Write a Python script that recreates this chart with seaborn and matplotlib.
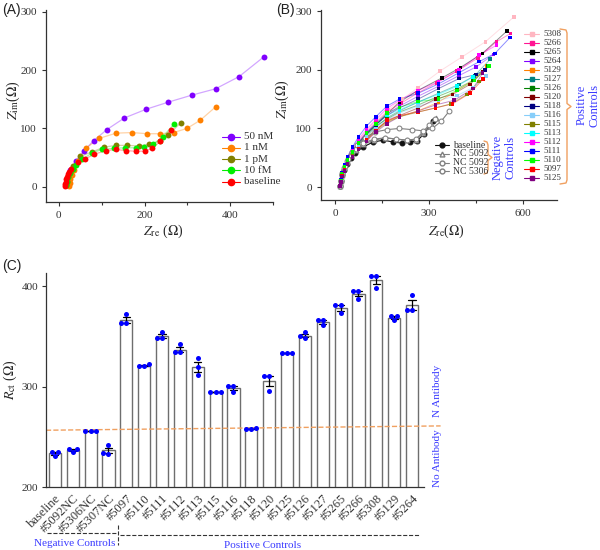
import numpy as np
import pandas as pd
import matplotlib
matplotlib.use('Agg')
import matplotlib.pyplot as plt
from matplotlib.lines import Line2D
import seaborn as sns

# --- Panel A: Nyquist plots for target concentrations ---
A_LABELS = ['50 nM', '1 nM', '1 pM', '10 fM', 'baseline']
A_COLORS = ['#8000ff', '#ff8000', '#808000', '#00ee00', '#ff0000']
A_X = [
    [17, 20, 25, 39, 58, 81, 112, 153, 204, 255, 310, 366, 421, 479],
    [24, 25, 27, 30, 36, 45, 63, 94, 134, 171, 206, 237, 268, 299, 330, 366],
    [17, 19, 22, 27, 34, 50, 78, 106, 133, 160, 186, 211, 235, 256, 285],
    [16, 18, 21, 26, 32, 40, 55, 77, 100, 128, 155, 180, 198, 220, 243, 268],
    [14, 15, 16, 17, 19, 21, 24, 29, 44, 62, 83, 110, 134, 157, 179, 200, 218, 237, 261],
]
A_Y = [
    [4, 14, 28, 44, 61, 79, 98, 118, 133, 145, 157, 168, 189, 223],
    [2, 7, 13, 20, 28, 45, 66, 83, 92, 93, 91, 91, 93, 100, 114, 137],
    [3, 10, 18, 26, 36, 52, 60, 68, 71, 71, 70, 73, 78, 89, 110],
    [3, 9, 16, 24, 30, 37, 47, 58, 64, 66, 67, 67, 68, 73, 86, 107],
    [2, 5, 9, 13, 17, 22, 26, 30, 42, 48, 56, 62, 64, 62, 61, 61, 66, 78, 98],
]

# --- Panel B: negative controls ---
NEG_LABELS = ['baseline', 'NC 5092', 'NC 5092 ', 'NC 5306']
NEG_MARKERS = ['o', '^', 'o', 'o']
NEG_X = [
    [15, 18, 22, 28, 38, 50, 65, 88, 122, 154, 184, 212, 239, 260, 284, 312],
    [15, 18, 22, 28, 38, 50, 66, 90, 125, 160, 195, 228, 258, 282, 305, 322],
    [15, 18, 22, 28, 38, 50, 66, 90, 125, 160, 195, 228, 258, 280, 300, 318],
    [15, 18, 23, 30, 40, 53, 70, 95, 128, 165, 205, 245, 280, 310, 338, 365],
]
NEG_Y = [
    [2, 10, 20, 30, 40, 50, 58, 68, 77, 80, 77, 75, 77, 78, 91, 112],
    [2, 11, 21, 32, 43, 54, 63, 73, 80, 84, 82, 80, 80, 92, 108, 118],
    [2, 11, 22, 33, 44, 55, 65, 75, 82, 84, 82, 80, 82, 94, 106, 116],
    [2, 12, 24, 36, 48, 60, 72, 84, 94, 98, 100, 98, 96, 100, 112, 130],
]

# --- Panel B: positive controls ---
POS_LABELS = ['5308', '5266', '5265', '5264', '5129', '5127', '5126', '5120', '5118',
              '5116', '5115', '5113', '5112', '5111', '5110', '5097', '5125']
POS_COLORS = ['#ffb6c1', '#ff1493', '#000000', '#8000ff', '#ff8000', '#008080', '#008000',
              '#800000', '#000080', '#87cefa', '#808000', '#00ffff', '#ff00ff', '#0000ff',
              '#00ff00', '#ff0000', '#800080']
POS_X = [
    [15, 18, 23, 30, 40, 55, 75, 100, 130, 170, 215, 265, 335, 405, 480, 570],
    [15, 18, 23, 30, 40, 55, 75, 100, 130, 165, 210, 262, 325, 390, 455, 515, 560],
    [15, 18, 23, 30, 40, 55, 75, 100, 130, 165, 205, 265, 340, 400, 470, 548],
    [15, 18, 23, 30, 40, 55, 75, 100, 130, 165, 205, 265, 330, 395, 450, 505],
    [15, 18, 23, 30, 40, 55, 75, 100, 130, 165, 205, 265, 330, 390, 440, 485],
    [15, 18, 23, 30, 40, 55, 75, 100, 130, 165, 205, 265, 330, 395, 445, 495],
    [15, 18, 23, 30, 40, 55, 75, 100, 130, 165, 205, 265, 330, 390, 440, 488],
    [15, 18, 23, 30, 40, 55, 75, 100, 130, 165, 205, 265, 320, 375, 430, 470],
    [15, 18, 23, 30, 40, 55, 75, 100, 130, 165, 205, 265, 330, 395, 450, 478],
    [15, 18, 23, 30, 40, 55, 75, 100, 130, 165, 205, 265, 330, 390, 440, 482],
    [15, 18, 23, 30, 40, 55, 75, 100, 130, 165, 205, 265, 320, 370, 420, 460],
    [15, 18, 23, 30, 40, 55, 75, 100, 130, 165, 205, 265, 330, 390, 440, 492],
    [15, 18, 23, 30, 40, 55, 75, 100, 130, 165, 205, 265, 330, 395, 460, 515],
    [15, 18, 23, 30, 40, 55, 75, 100, 130, 165, 205, 265, 330, 395, 460, 510, 558],
    [15, 18, 23, 30, 40, 55, 75, 100, 130, 165, 205, 265, 330, 390, 445, 490],
    [15, 18, 23, 30, 40, 55, 75, 100, 130, 165, 205, 265, 320, 375, 430, 472],
    [15, 18, 23, 30, 40, 55, 75, 100, 130, 165, 205, 265, 320, 380, 440, 470],
]
POS_Y = [
    [2, 12, 24, 36, 50, 64, 80, 96, 112, 132, 150, 170, 198, 222, 248, 290],
    [2, 12, 24, 36, 50, 63, 78, 94, 110, 128, 143, 160, 178, 198, 220, 248, 262],
    [2, 11, 22, 34, 47, 60, 74, 90, 106, 124, 145, 165, 186, 204, 228, 266],
    [2, 11, 23, 35, 48, 62, 77, 93, 108, 124, 138, 155, 172, 190, 205, 226],
    [2, 10, 20, 31, 43, 55, 68, 84, 98, 112, 120, 130, 145, 165, 182, 206],
    [2, 10, 21, 32, 45, 58, 72, 88, 102, 118, 130, 145, 160, 175, 190, 218],
    [2, 10, 21, 33, 45, 58, 73, 90, 104, 116, 128, 140, 155, 168, 182, 207],
    [2, 9, 19, 30, 42, 54, 67, 82, 98, 112, 122, 135, 150, 158, 175, 196],
    [2, 10, 22, 34, 47, 60, 76, 92, 106, 122, 135, 150, 168, 185, 192, 200],
    [2, 10, 21, 32, 44, 57, 71, 86, 100, 114, 126, 138, 148, 156, 170, 190],
    [2, 9, 19, 30, 41, 53, 66, 80, 96, 110, 120, 128, 135, 142, 158, 180],
    [2, 11, 22, 34, 47, 61, 76, 92, 107, 122, 132, 145, 158, 172, 188, 206],
    [2, 12, 24, 37, 51, 66, 82, 98, 115, 134, 148, 165, 180, 200, 225, 242],
    [2, 12, 25, 38, 52, 68, 86, 104, 120, 138, 150, 160, 176, 195, 214, 228, 255],
    [2, 10, 22, 34, 46, 60, 75, 92, 108, 126, 136, 146, 150, 165, 182, 206],
    [2, 9, 19, 29, 40, 52, 65, 80, 96, 114, 122, 128, 135, 142, 160, 184],
    [2, 9, 18, 28, 39, 51, 64, 78, 94, 108, 120, 130, 140, 148, 168, 194],
]

# --- Panel C: charge-transfer resistance, three replicates each ---
C_SAMPLES = ['baseline', '#5092NC', '#5306NC', '#5307NC', '#5097', '#5110', '#5111',
             '#5112', '#5113', '#5115', '#5116', '#5118', '#5120', '#5125', '#5126',
             '#5127', '#5265', '#5266', '#5308', '#5129', '#5264']
C_REPS = [
    [235, 231, 235], [238, 235, 238], [256, 255.5, 255.5], [242, 233, 234],
    [372, 363, 363], [322, 320, 320], [354, 348, 348], [342, 334, 334],
    [328, 319, 311], [295, 295, 295], [301, 301, 295], [259, 258, 258],
    [310, 310, 296], [333.5, 333, 333], [354, 350, 348], [366, 366, 361],
    [381, 381, 373], [395, 395, 387], [410, 410, 398], [370, 370, 366],
    [391, 376, 376],
]

W, H = 600, 550
BLUE_TXT = '#3a3aff'
SERIF = ['Liberation Serif', 'DejaVu Serif']


def fx(px):
    return px / W


def fy(py):
    return 1 - py / H


def fbox(l, t, r, b):
    return [fx(l), fy(b), (r - l) / W, (b - t) / H]


def long_df(labels, xs, ys):
    rows = []
    for lab, xx, yy in zip(labels, xs, ys):
        for i, (a, b) in enumerate(zip(xx, yy)):
            rows.append({'series': lab, 'x': a, 'y': b, 'i': i})
    return pd.DataFrame(rows)


def key_row(fig, x, y, line_color, marker, mcolor, mfc, ms, label, fs, length=16):
    fig.add_artist(Line2D([fx(x), fx(x + length)], [fy(y), fy(y)], color=line_color,
                          lw=0.8, transform=fig.transFigure))
    fig.add_artist(Line2D([fx(x + length / 2)], [fy(y)], marker=marker, color=mcolor,
                          mfc=mfc, mec=mcolor, ms=ms, ls='none', transform=fig.transFigure))
    fig.text(fx(x + length + 4), fy(y), label, fontsize=fs, va='center', color='#333333')


def bracket(fig, x_in, x_out, top, bottom):
    mid = (top + bottom) / 2
    xs = [x_in, x_out - 1, x_out, x_out, x_out + 4, x_out, x_out, x_out - 1, x_in]
    ys = [top, top + 1, top + 4, mid - 3, mid, mid + 3, bottom - 4, bottom - 1, bottom]
    fig.add_artist(Line2D([fx(v) for v in xs], [fy(v) for v in ys], color='#f0a060',
                          lw=1, transform=fig.transFigure))


def style_axis(ax):
    sns.despine(ax=ax)
    for sp in ax.spines.values():
        sp.set_color('#333333')
        sp.set_linewidth(0.9)
    ax.tick_params(direction='out', length=3, width=0.8, colors='#333333', labelsize=8)


sns.set_theme(style='ticks')
plt.rcParams['font.family'] = SERIF
plt.rcParams['mathtext.fontset'] = 'stix'

fig = plt.figure(figsize=(6, 5.5), dpi=100)
axA = fig.add_axes(fbox(46, 10, 273, 202))
axB = fig.add_axes(fbox(321, 10, 557, 200))
axC = fig.add_axes(fbox(46, 273, 424, 487))

# ---------------- Panel A ----------------
dfA = long_df(A_LABELS, A_X, A_Y)
palA = dict(zip(A_LABELS, A_COLORS))
sns.lineplot(data=dfA, x='x', y='y', hue='series', hue_order=A_LABELS, palette=palA,
             units='series', estimator=None, sort=False, lw=0.9, alpha=0.35,
             legend=False, ax=axA)
for lab in A_LABELS:
    sns.scatterplot(data=dfA[dfA['series'] == lab], x='x', y='y', color=palA[lab],
                    s=18, linewidth=0, legend=False, ax=axA, zorder=3)
axA.set_xlim(-30, 500)
axA.set_ylim(-26, 303)
axA.set_xticks([0, 200, 400])
axA.set_xticks([100, 300, 500], minor=True)
axA.set_yticks([0, 100, 200, 300])
axA.set_xlabel(r'$Z_{\rm re}$ ($\Omega$)', fontsize=10)
axA.set_ylabel(r'$Z_{\rm im}$($\Omega$)', fontsize=10)
axA.xaxis.set_label_coords(0.515, -0.11)
axA.yaxis.set_label_coords(-0.105, 0.53)
style_axis(axA)
axA.tick_params(which='minor', length=2, width=0.8, colors='#333333')
for k, (lab, col) in enumerate(zip(A_LABELS, A_COLORS)):
    key_row(fig, 222, 136.5 + k * 11.3, col, 'o', col, col, 4.5, lab, 8, length=18)

# ---------------- Panel B ----------------
dfN = long_df(NEG_LABELS, NEG_X, NEG_Y)
dfP = long_df(POS_LABELS, POS_X, POS_Y)
palP = dict(zip(POS_LABELS, POS_COLORS))
sns.lineplot(data=dfP, x='x', y='y', hue='series', hue_order=POS_LABELS[::-1],
             palette=palP, units='series', estimator=None, sort=False, lw=0.7,
             alpha=0.45, legend=False, ax=axB)
sns.scatterplot(data=dfP, x='x', y='y', hue='series', hue_order=POS_LABELS[::-1],
                palette=palP, marker='s', s=7, linewidth=0, legend=False, ax=axB, zorder=3)
for lab, mk in zip(NEG_LABELS, NEG_MARKERS):
    sub = dfN[dfN['series'] == lab]
    if lab == 'baseline':
        sns.lineplot(data=sub, x='x', y='y', sort=False, estimator=None, color='#111111',
                     lw=0.8, marker='o', ms=3.5, mec='#111111', ax=axB)
    else:
        sns.lineplot(data=sub, x='x', y='y', sort=False, estimator=None, color='#808080',
                     lw=0.8, marker=mk, ms=3.5, mfc='white', mec='#808080', ax=axB)
axB.set_xlim(-45, 708)
axB.set_ylim(-22, 302)
axB.set_xticks([0, 300, 600])
axB.set_xticks([150, 450], minor=True)
axB.set_yticks([0, 100, 200, 300])
axB.set_xlabel(r'$Z_{\rm re}$($\Omega$)', fontsize=10)
axB.set_ylabel(r'$Z_{\rm im}$($\Omega$)', fontsize=10)
axB.xaxis.set_label_coords(0.533, -0.12)
axB.yaxis.set_label_coords(-0.127, 0.53)
style_axis(axB)
axB.tick_params(which='minor', length=2, width=0.8, colors='#333333')

# legends of panel B drawn as rows
for k, (lab, mk) in enumerate(zip(['baseline', 'NC 5092', 'NC 5092', 'NC 5306'], NEG_MARKERS)):
    if k == 0:
        key_row(fig, 435, 145 + k * 8.8, '#111111', 'o', '#111111', '#111111', 3.5, lab, 7, 14)
    else:
        key_row(fig, 435, 145 + k * 8.8, '#808080', mk, '#808080', 'white', 3.5, lab, 7, 14)
bracket(fig, 484, 488, 141, 174)
fig.text(fx(504), fy(157), 'Negative\nControls', rotation=90, ha='center', va='center',
         fontsize=9, color=BLUE_TXT, linespacing=1.0)
for k, (lab, col) in enumerate(zip(POS_LABELS, POS_COLORS)):
    key_row(fig, 524, 34.3 + k * 8.96, col, 's', col, col, 2.5, lab, 6.5, 15)
bracket(fig, 560, 567, 29, 184)
fig.text(fx(588), fy(105), 'Positive\nControls', rotation=90, ha='center', va='center',
         fontsize=9, color=BLUE_TXT, linespacing=1.0)

# ---------------- Panel C ----------------
dfC = pd.DataFrame({'sample': np.repeat(C_SAMPLES, 3), 'rct': np.concatenate(C_REPS)})
sns.barplot(data=dfC, x='sample', y='rct', order=C_SAMPLES, errorbar='se', color='white',
            edgecolor='#6e6e6e', linewidth=1, width=0.68, capsize=0.4,
            err_kws={'color': 'black', 'linewidth': 0.9}, ax=axC)
sns.swarmplot(data=dfC, x='sample', y='rct', order=C_SAMPLES, color='#0000ff', size=3.6,
              ax=axC, zorder=4)
axC.set_xlim(-0.5, 20.67)
axC.set_ylim(200, 413)
axC.set_yticks([200, 300, 400])
axC.set_xticks(range(len(C_SAMPLES)))
axC.set_xticklabels(C_SAMPLES, rotation=45, ha='right', rotation_mode='anchor')
axC.set_xlabel('')
axC.set_ylabel(r'$R_{\rm ct}$ ($\Omega$)', fontsize=10)
axC.yaxis.set_label_coords(-0.072, 0.5)
style_axis(axC)
axC.tick_params(axis='y', pad=2.5)
axC.tick_params(axis='x', length=0, pad=4, labelsize=9)
axC.plot([-0.5, 21.6], [256.5, 260.8], ls='--', color='#f0a060', lw=1, clip_on=False)
fig.text(fx(437), fy(391), 'N Antibody', rotation=90, ha='center', va='center',
         fontsize=8, color=BLUE_TXT)
fig.text(fx(437), fy(458), 'No Antibody', rotation=90, ha='center', va='center',
         fontsize=8, color=BLUE_TXT)

# group brackets under the bars
dash = dict(ls='--', color='#333333', lw=0.8, transform=fig.transFigure)
fig.add_artist(Line2D([fx(47), fx(117)], [fy(533), fy(533)], **dash))
fig.add_artist(Line2D([fx(118), fx(118)], [fy(525), fy(545)], **dash))
fig.add_artist(Line2D([fx(120), fx(420)], [fy(535), fy(535)], **dash))
fig.text(fx(75), fy(543), 'Negative Controls', ha='center', va='center', fontsize=8,
         color=BLUE_TXT)
fig.text(fx(263), fy(545), 'Positive Controls', ha='center', va='center', fontsize=8,
         color=BLUE_TXT)

# panel letters
for lab, x, y in [('(A)', 2, 10), ('(B)', 276, 10), ('(C)', 2, 266)]:
    fig.text(fx(x), fy(y), lab, fontsize=10, va='center', ha='left',
             family=['Liberation Sans', 'DejaVu Sans'], color='#222222')

fig.savefig('out.png', dpi=100)
